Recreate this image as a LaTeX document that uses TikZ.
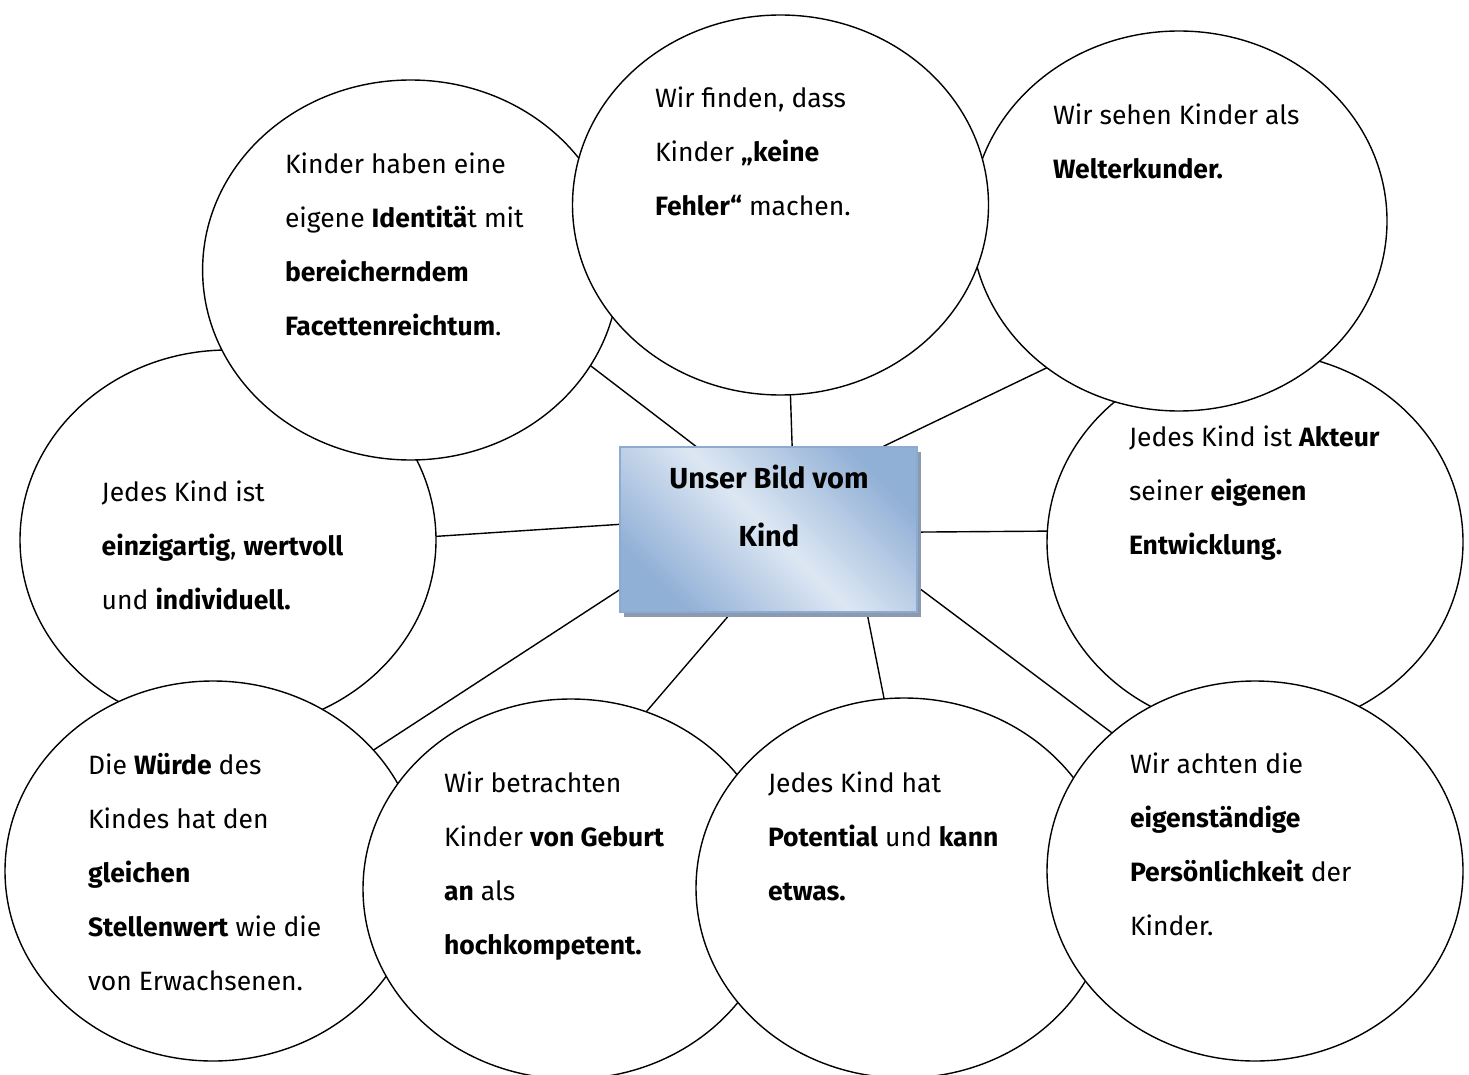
\documentclass[tikz,border=0pt]{standalone}
\usepackage{fontspec}
\setmainfont{Fira Sans}
\usetikzlibrary{shapes.geometric,shadows}
\definecolor{boxdark}{RGB}{145,176,214}
\definecolor{boxlight}{RGB}{221,231,243}
\definecolor{boxborder}{RGB}{141,170,210}
\definecolor{boxshadow}{RGB}{140,154,176}
\pgfdeclarelayer{bg}
\pgfsetlayers{bg,main}
\begin{document}
\begin{tikzpicture}[x=1pt,y=-1pt,
  bubble/.style={ellipse, draw=black, line width=1.4pt, fill=white,
    minimum width=416pt, minimum height=380pt, inner sep=0pt, outer sep=0pt},
  txt/.style={anchor=north west, inner sep=0pt, outer sep=0pt, align=left,
    font=\fontsize{26.5}{54}\selectfont},
  link/.style={line width=1.4pt, draw=black},
  centerbox/.style={rectangle, draw=boxborder, line width=1.5pt,
    minimum width=297pt, minimum height=165pt, inner sep=0pt, outer sep=0pt,
    top color=boxdark, bottom color=boxdark, middle color=boxlight, shading angle=-45,
    drop shadow={shadow xshift=4pt, shadow yshift=-5pt, fill=boxshadow, opacity=1}},
  titletxt/.style={anchor=north, inner sep=0pt, outer sep=0pt, align=center,
    font=\bfseries\fontsize{29}{58.4}\selectfont}]
\useasboundingbox (0,0) rectangle (1469,1075);

% bubbles, lowest first
\node[bubble] (jk) at (228,540) {};
\node[bubble] (ak) at (1255,542) {};
\node[bubble] (kh) at (410.6,270) {};
\node[bubble] (ws) at (1179,221) {};
\node[bubble] (wf) at (780.5,205) {};
\node[bubble] (wu) at (213,871) {};
\node[bubble] (bt) at (571,889) {};
\node[bubble] (po) at (904,888) {};
\node[bubble] (ac) at (1255,871) {};

% centre box
\node[centerbox] (ctr) at (768.5,529.5) {};
\node[titletxt] (ttl) at (769,458.3) {\rule{0pt}{30pt}Unser Bild vom\\Kind};

% connectors
\begin{pgfonlayer}{bg}
\draw[link] (ctr.131.7) -- (kh.-28);
\draw[link] (ctr.74.9) -- (wf.-87);
\draw[link] (ctr.36.1) -- (ws.-132.1);
\draw[link] (ctr.178.9) -- (jk.1.6);
\draw[link] (ctr.-1.7) -- (ak.177.8);
\draw[link] (ctr.-158.8) -- (wu.37.7);
\draw[link] (ctr.-114.4) -- (bt.67.1);
\draw[link] (ctr.-40.5) -- (po.96.7);
\draw[link] (ctr.-21.1) -- (ac.136.2);
\end{pgfonlayer}

% texts
\node[txt] (tkh) at (285,143.3) {\rule{0pt}{30pt}Kinder haben eine\\eigene \textbf{Identitä}t mit\\\textbf{bereicherndem}\\\textbf{Facettenreichtum}.};
\node[txt] (twf) at (655,77.3) {\rule{0pt}{30pt}Wir finden, dass\\Kinder \textbf{„keine}\\\textbf{Fehler“} machen.};
\node[txt] (tws) at (1053,95) {\rule{0pt}{30pt}Wir sehen Kinder als\\\textbf{Welterkunder.}};
\node[txt] (tjk) at (101.7,471.7) {\rule{0pt}{30pt}Jedes Kind ist\\\textbf{einzigartig}, \textbf{wertvoll}\\und \textbf{individuell.}};
\node[txt] (tak) at (1129,416) {\rule{0pt}{30pt}Jedes Kind ist \textbf{Akteur}\\seiner \textbf{eigenen}\\\textbf{Entwicklung.}};
\node[txt] (twu) at (88,744) {\rule{0pt}{30pt}Die \textbf{Würde} des\\Kindes hat den\\\textbf{gleichen}\\\textbf{Stellenwert} wie die\\von Erwachsenen.};
\node[txt] (tbt) at (444,762.7) {\rule{0pt}{30pt}Wir betrachten\\Kinder \textbf{von Geburt}\\\textbf{an} als\\\textbf{hochkompetent.}};
\node[txt] (tpo) at (768,762.7) {\rule{0pt}{30pt}Jedes Kind hat\\\textbf{Potential} und \textbf{kann}\\\textbf{etwas.}};
\node[txt] (tac) at (1130,743.3) {\rule{0pt}{30pt}Wir achten die\\\textbf{eigenständige}\\\textbf{Persönlichkeit} der\\Kinder.};
\end{tikzpicture}
\end{document}
